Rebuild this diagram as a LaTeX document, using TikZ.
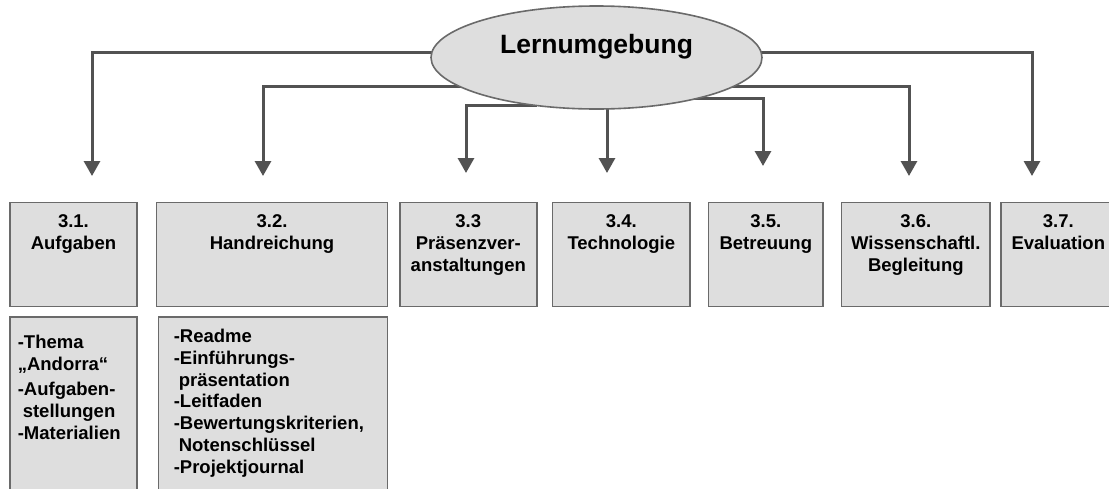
\documentclass[tikz,border=0pt]{standalone}
\usepackage{fontspec}
\setmainfont{Liberation Sans}
\usetikzlibrary{arrows.meta,shapes.geometric,calc,backgrounds}
\definecolor{boxfill}{HTML}{DEDEDE}
\definecolor{boxline}{HTML}{6A6A6A}
\definecolor{arrowc}{HTML}{525252}
\newcommand\topbox[3]{\parbox[c][#2][t]{#1}{\centering\vspace*{10.2pt}\strut#3}}
\newcommand\listbox[5]{\parbox[c][#2][t]{#1}{\raggedright\leftskip=#4\vspace*{#3}\strut#5}}
\begin{document}
\begin{tikzpicture}[x=1pt,y=-1pt,
  conn/.style={draw=arrowc, line width=3pt, -{Triangle[width=16pt,length=15pt]}},
  boxnode/.style={draw=boxline, fill=boxfill, line width=1.6pt, anchor=north west, inner sep=0pt,
    font=\bfseries\fontsize{18.5}{21.7}\selectfont},
  rootnode/.style={ellipse, draw=boxline, fill=boxfill, line width=1.6pt,
    minimum width=331pt, minimum height=103pt, inner sep=0pt,
    font=\bfseries\fontsize{26.5}{30}\selectfont, text height=18pt, text depth=27pt}]
\useasboundingbox (0,0) rectangle (1109,488);
\clip (0,0) rectangle (1109,488);

% central ellipse
\node[rootnode] (root) at (596.5,57.5) {Lernumgebung};

% top row boxes
\node[boxnode] (b1) at (9.3,201.7) {\topbox{126.7pt}{104pt}{3.1.\\Aufgaben}};
\node[boxnode] (b2) at (155.7,201.7) {\topbox{231pt}{104pt}{3.2.\\Handreichung}};
\node[boxnode] (b3) at (399,201.7) {\topbox{137pt}{104pt}{3.3\\Präsenzver-\\anstaltungen}};
\node[boxnode] (b4) at (551.7,201.7) {\topbox{137.6pt}{104pt}{3.4.\\Technologie}};
\node[boxnode] (b5) at (707.7,201.7) {\topbox{114.6pt}{104pt}{3.5.\\Betreuung}};
\node[boxnode] (b6) at (840.7,201.7) {\topbox{148.6pt}{104pt}{3.6.\\Wissenschaftl.\\Begleitung}};
\node[boxnode] (b7) at (1000,201.7) {\topbox{115pt}{104pt}{3.7.\\Evaluation}};

% detail boxes
\node[boxnode] (d1) at (9.3,316) {\listbox{126.7pt}{190pt}{16.9pt}{7.7pt}{-Thema\\
  „Andorra“\\[3.4pt]
  -Aufgaben-\\
  \hspace*{5pt}stellungen\\
  -Materialien}};
\node[boxnode] (d2) at (157.7,316) {\listbox{229pt}{190pt}{10.9pt}{15.3pt}{-Readme\\
  -Einführungs-\\
  \hspace*{5pt}präsentation\\
  -Leitfaden\\
  -Bewertungskriterien,\\
  \hspace*{5pt}Notenschlüssel\\
  -Projektjournal}};

% arrow end points
\coordinate (e1) at (92,176);
\coordinate (e2) at (263,176);
\coordinate (e3) at (466,173);
\coordinate (e4) at (607,173);
\coordinate (e5) at (763,166);
\coordinate (e6) at (909,176);
\coordinate (e7) at (1032,176);

\begin{scope}[on background layer]
  \fill[white] (0,0) rectangle (1109,488);
  \draw[conn] ($(root.center)+(-160,-5.5)$) -| (e1);
  \draw[conn] ($(root.center)+(-130,28.5)$) -| (e2);
  \draw[conn] ($(root.center)+(-60,47.5)$) -| (e3);
  \draw[conn] ($(root.center)+(10.5,40)$) -- (e4);
  \draw[conn] ($(root.center)+(95,40.5)$) -| (e5);
  \draw[conn] ($(root.center)+(130,28.5)$) -| (e6);
  \draw[conn] ($(root.center)+(160,-5.5)$) -| (e7);
\end{scope}
\end{tikzpicture}
\end{document}
